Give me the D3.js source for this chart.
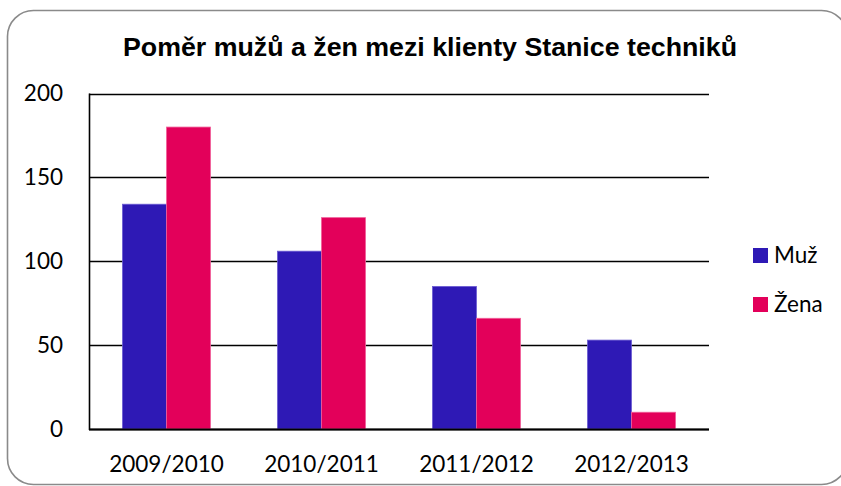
<!DOCTYPE html>
<html>
<head>
<meta charset="utf-8">
<script src="https://cdn.jsdelivr.net/npm/d3@7"></script>
<style>
  html, body { margin: 0; padding: 0; background: #fff; }
  svg { display: block; }
</style>
</head>
<body>
<svg id="chart" width="841" height="486"></svg>
<script>
// School years and client counts by gender
const years = ["2009/2010", "2010/2011", "2011/2012", "2012/2013"];
const muz = [134, 106, 85, 53];
const zena = [180, 126, 66, 10];
const seriesNames = ["Muž", "Žena"];
const seriesColors = ["#2E19B5", "#E3005A"];
const seriesStroke = ["#6B5CD3", "#F0609A"];
const yTicks = [0, 50, 100, 150, 200];

const svg = d3.select("#chart");

// Outer rounded frame
svg.append("rect")
  .attr("x", 7.5).attr("y", 10.5)
  .attr("width", 840).attr("height", 474)
  .attr("rx", 26).attr("ry", 26)
  .attr("fill", "#fff")
  .attr("stroke", "#8a8a8a")
  .attr("stroke-width", 1.6);

// Title
svg.append("text")
  .attr("x", 430).attr("y", 56)
  .attr("text-anchor", "middle")
  .attr("font-family", "'Liberation Sans', Arial, sans-serif")
  .attr("font-weight", "bold")
  .attr("font-size", 26.5)
  .attr("textLength", 614)
  .attr("lengthAdjust", "spacingAndGlyphs")
  .attr("fill", "#000")
  .text("Poměr mužů a žen mezi klienty Stanice techniků");

const plot = { left: 89, right: 709, top: 93.5, bottom: 429 };

const x = d3.scaleBand().domain(years).range([plot.left, plot.right]).padding(0);
const x1 = d3.scaleBand().domain(seriesNames)
  .range([0, x.bandwidth()]).paddingInner(0).paddingOuter(0.76);
const y = d3.scaleLinear().domain([0, 200]).range([plot.bottom, plot.top]);

const labelFont = "Lato, 'Open Sans', sans-serif";
const labelSize = 22.5;

// Horizontal gridlines
svg.append("g")
  .selectAll("line")
  .data(yTicks)
  .join("line")
  .attr("x1", plot.left).attr("x2", plot.right)
  .attr("y1", d => Math.round(y(d)) + 0.5)
  .attr("y2", d => Math.round(y(d)) + 0.5)
  .attr("stroke", "#000")
  .attr("stroke-width", 1.6);

// Bars
const data = years.map((yr, i) => ({ year: yr, values: [muz[i], zena[i]] }));
const groups = svg.append("g")
  .selectAll("g")
  .data(data)
  .join("g")
  .attr("transform", d => `translate(${x(d.year)},0)`);

groups.selectAll("rect")
  .data(d => d.values.map((v, k) => ({ name: seriesNames[k], value: v, k })))
  .join("rect")
  .attr("x", d => x1(d.name))
  .attr("width", x1.bandwidth())
  .attr("y", d => y(d.value))
  .attr("height", d => y(0) - y(d.value))
  .attr("fill", d => seriesColors[d.k])
  .attr("stroke", d => seriesStroke[d.k])
  .attr("stroke-width", 0.8);

// Axis lines
svg.append("line")
  .attr("x1", plot.left + 0.5).attr("x2", plot.left + 0.5)
  .attr("y1", plot.top).attr("y2", plot.bottom + 1)
  .attr("stroke", "#000").attr("stroke-width", 1.6);
svg.append("line")
  .attr("x1", plot.left).attr("x2", plot.right)
  .attr("y1", Math.round(y(0)) + 0.5).attr("y2", Math.round(y(0)) + 0.5)
  .attr("stroke", "#000").attr("stroke-width", 1.8);

// Y tick labels
const yAxis = d3.axisLeft(y).tickValues(yTicks).tickSize(0).tickPadding(26);
const gy = svg.append("g").attr("transform", `translate(${plot.left},0)`).call(yAxis);
gy.select(".domain").remove();
gy.selectAll("text")
  .attr("font-family", labelFont)
  .attr("font-size", labelSize)
  .attr("fill", "#000");

// X category labels
const xAxis = d3.axisBottom(x).tickSize(0).tickPadding(27);
const gx = svg.append("g").attr("transform", `translate(0,${plot.bottom})`).call(xAxis);
gx.select(".domain").remove();
gx.selectAll("text")
  .attr("font-family", labelFont)
  .attr("font-size", labelSize)
  .attr("fill", "#000");

// Legend
const legend = svg.append("g")
  .selectAll("g")
  .data(seriesNames)
  .join("g")
  .attr("transform", (d, i) => `translate(753,${248 + i * 49})`);
legend.append("rect")
  .attr("width", 15).attr("height", 15)
  .attr("fill", (d, i) => seriesColors[i]);
legend.append("text")
  .attr("x", 21).attr("y", 15)
  .attr("font-family", labelFont)
  .attr("font-size", labelSize)
  .attr("fill", "#000")
  .text(d => d);
</script>
</body>
</html>
